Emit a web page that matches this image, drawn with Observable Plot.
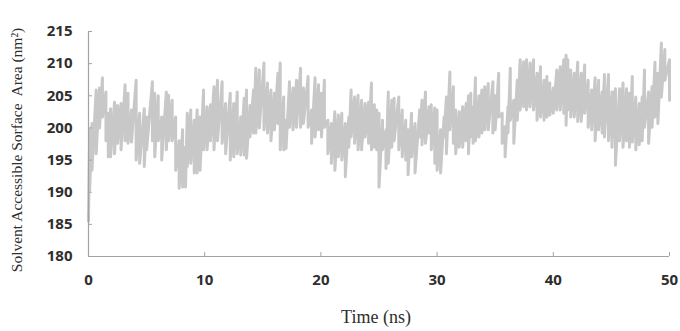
<!DOCTYPE html>
<html>
<head>
<meta charset="utf-8">
<script src="https://cdn.jsdelivr.net/npm/d3@7"></script>
<script src="https://cdn.jsdelivr.net/npm/@observablehq/plot@0.6"></script>
<style>
  html, body { margin: 0; padding: 0; background: #ffffff; }
  #chart { width: 680px; height: 331px; }
</style>
</head>
<body>
<div id="chart"></div>
<script>
// Sample times (ns) with the upper and lower extent of the SASA trace read at each
const timeNs = [
  0, 0.1, 0.3, 0.66, 0.95, 1.2, 1.5, 1.7, 1.9, 2.24,
  2.5, 2.8, 3.15, 3.4, 3.7, 4.1, 4.4, 4.8, 5.0, 5.5,
  5.7, 6.0, 6.3, 6.7, 6.9, 7.2, 7.5, 7.8, 8.1, 8.35,
  8.5, 8.8, 9.1, 9.35, 9.6, 9.9, 10.2, 10.5, 10.8, 11.1,
  11.5, 11.8, 12.2, 12.5, 12.8, 13.1, 13.4, 13.6, 13.9, 14.2,
  14.4, 14.7, 15.1, 15.4, 15.7, 16.0, 16.3, 16.5, 16.8, 17.0,
  17.3, 17.6, 17.9, 18.25, 18.5, 18.9, 19.2, 19.5, 19.8, 20.05,
  20.3, 20.6, 20.9, 21.2, 21.5, 21.8, 22.1, 22.4, 22.6, 22.9,
  23.2, 23.5, 23.8, 24.1, 24.35, 24.6, 24.8, 25.0, 25.3, 25.6,
  25.8, 26.1, 26.3, 26.7, 27.0, 27.3, 27.5, 27.8, 28.1, 28.5,
  28.7, 29.0, 29.3, 29.5, 29.8, 30.0, 30.3, 30.6, 30.8, 31.1,
  31.4, 31.6, 31.9, 32.2, 32.5, 32.7, 32.9, 33.1, 33.3, 33.6,
  33.85, 34.1, 34.4, 34.8, 35.0, 35.3, 35.6, 35.85, 36.1, 36.3,
  36.6, 36.9, 37.15, 37.45, 37.7, 38.0, 38.3, 38.6, 38.9, 39.2,
  39.45, 39.7, 40.0, 40.3, 40.6, 40.9, 41.1, 41.25, 41.5, 41.8,
  42.1, 42.4, 42.7, 43.0, 43.3, 43.6, 43.9, 44.2, 44.4, 44.75,
  45.05, 45.2, 45.35, 45.7, 46.0, 46.3, 46.55, 46.8, 47.1, 47.4,
  47.65, 47.85, 48.2, 48.5, 48.75, 49.0, 49.3, 49.6, 50.0
];
const sasaHigh = [
  187, 199.7, 200.7, 205.9, 206.2, 207.8, 205.6, 202.3, 203, 204,
  203.5, 203.8, 206.7, 205.4, 202.8, 207.4, 202.3, 203, 201.7, 207.2,
  205.4, 205, 201.7, 205.6, 205.1, 204.3, 201.7, 198, 199.7, 197,
  202.3, 202.8, 201.2, 202.8, 201.7, 205.9, 203.3, 203.6, 206.4, 207.4,
  207.2, 203.8, 205.4, 203.8, 205.6, 201.7, 204.6, 205.9, 203.5, 205.9,
  209.3, 209, 210.1, 207, 205.9, 205.4, 208.5, 210.1, 204.8, 201.2,
  207.2, 206.2, 207.4, 209.3, 206.2, 208, 202.8, 207.8, 206.7, 205.4,
  207.4, 201.2, 200.7, 202.5, 202, 202.3, 200.7, 201.7, 205.9, 204.8,
  205.1, 204.3, 203.8, 204, 207, 203.6, 202.8, 202.3, 201.2, 199.7,
  205.6, 204.3, 204.6, 204.8, 202.8, 201.2, 199.7, 202.3, 200.7, 202.8,
  204.3, 205.6, 203.3, 203.6, 203.1, 202.8, 199.7, 201.7, 204.8, 208.7,
  206.4, 202.8, 202.5, 203.3, 203.8, 205, 205.4, 203.3, 207.8, 205,
  205.9, 206.4, 206.9, 207.2, 205, 208.5, 202.3, 200.2, 203.3, 209.3,
  204.3, 207.4, 210.6, 210.3, 210.6, 210.1, 210.6, 208.5, 209.5, 207.4,
  208, 207, 206.2, 209, 209.5, 210.6, 211.3, 210.6, 209, 208.5,
  210.2, 208.5, 209.8, 207.4, 205.9, 207.8, 207.4, 205.6, 208.3, 208.3,
  205.6, 205.6, 206.1, 206.1, 207, 206.1, 205.4, 208, 204.8, 203.8,
  204.8, 209, 205.6, 206.4, 210.2, 208.5, 213.2, 212.2, 210.6
];
const sasaLow = [
  185.5, 190.3, 193.4, 196, 200, 201.7, 198, 195.5, 195.5, 196,
  197.6, 196.6, 198, 197.6, 197.8, 195, 194.5, 194, 196.6, 198,
  195.5, 198, 195, 196.6, 198, 198, 193.4, 190.6, 190.8, 190.8,
  194, 194.5, 193, 193, 193.4, 196.6, 196.6, 198, 196.6, 198,
  197.6, 196, 195, 195.5, 196, 195.8, 195.8, 195.3, 198.6, 199.2,
  199.2, 200, 199.7, 199.2, 198, 199.7, 200.7, 196.6, 196.6, 196.8,
  200.1, 199.7, 200.1, 200.1, 200.7, 200.1, 197.6, 198.6, 199.7, 198.6,
  200.1, 196, 194.5, 193.4, 195.5, 195, 192.4, 197, 198.6, 197.6,
  196.6, 196.6, 198.6, 197.6, 196.6, 197, 196.6, 190.8, 196.6, 193.7,
  194.5, 197, 198, 196.6, 195.5, 195, 192.7, 195.5, 193, 198.6,
  197.4, 197.6, 199.2, 196.6, 194.5, 193.4, 193, 198.6, 196, 199.7,
  197.6, 196, 197, 197, 198, 196, 198.6, 197.6, 198, 198.6,
  199.2, 199.7, 199.7, 199.2, 199.7, 201.7, 197.6, 195.5, 199.2, 201.2,
  197.6, 201.2, 202.8, 203.3, 202.8, 203.3, 202.8, 201.2, 201.7, 201.2,
  201.7, 202, 202.3, 202.8, 202.8, 202.3, 200.4, 202.8, 201.7, 201.7,
  201, 201, 202.3, 200.1, 199.7, 198, 199.7, 199.2, 198.6, 198,
  197, 198.6, 194.2, 198, 197, 198, 197, 197.8, 196.6, 197.4,
  198, 200.1, 197.6, 200.1, 201.7, 200.7, 204.8, 207.4, 204.3
];
const xTickLabels = [0, 10, 20, 30, 40, 50];
const xTickMarks = [10, 20, 30, 40, 50];
const yTickLabels = [180, 185, 190, 195, 200, 205, 210, 215];
const yTickMarks = [185, 190, 195, 200, 205, 210, 215];
const xTitle = "Time (ns)";
const yTitle = "Solvent Accessible Sorface  Area (nm²)";

// Interleave high/low readings into one trace
const trace = [];
timeNs.forEach((t, i) => {
  trace.push({t, v: sasaHigh[i]});
  trace.push({t, v: sasaLow[i]});
});

const axisColor = "#a3a3a3";
const labelColor = "#2e2e2e";

const chart = Plot.plot({
  width: 680,
  height: 331,
  marginLeft: 88,
  marginRight: 11,
  marginTop: 31,
  marginBottom: 75,
  style: {fontFamily: "'Open Sans', sans-serif", background: "#ffffff", color: labelColor},
  x: {domain: [0, 50], label: null},
  y: {domain: [180, 215], label: null},
  marks: [
    Plot.line(trace, {x: "t", y: "v", stroke: "#c8c8c9", strokeWidth: 3, strokeLinejoin: "round", strokeLinecap: "round"}),
    Plot.ruleX([0], {stroke: axisColor, strokeWidth: 1.2}),
    Plot.ruleY([180], {stroke: axisColor, strokeWidth: 1.2}),
    Plot.axisY(yTickMarks, {fill: "none", tickSize: 4, dx: 4, stroke: axisColor, label: null}),
    Plot.axisX(xTickMarks, {fill: "none", tickSize: 4, dy: -4, stroke: axisColor, label: null}),
    Plot.axisY(yTickLabels, {tickSize: 0, tickPadding: 16, fontSize: 15, fontWeight: 700, fill: labelColor, label: null}),
    Plot.axisX(xTickLabels, {tickSize: 0, tickPadding: 18, fontSize: 15, fontWeight: 700, fill: labelColor, label: null}),
    Plot.text([yTitle], {frameAnchor: "left", textAnchor: "middle", rotate: -90, dx: -71, dy: 6, fontFamily: "'Liberation Serif', 'Times New Roman', serif", fontSize: 15.5, fill: labelColor}),
    Plot.text([xTitle], {frameAnchor: "bottom", textAnchor: "middle", dy: 66, dx: -3, fontFamily: "'Liberation Serif', 'Times New Roman', serif", fontSize: 18, fill: labelColor})
  ]
});
document.getElementById("chart").appendChild(chart);
</script>
</body>
</html>
